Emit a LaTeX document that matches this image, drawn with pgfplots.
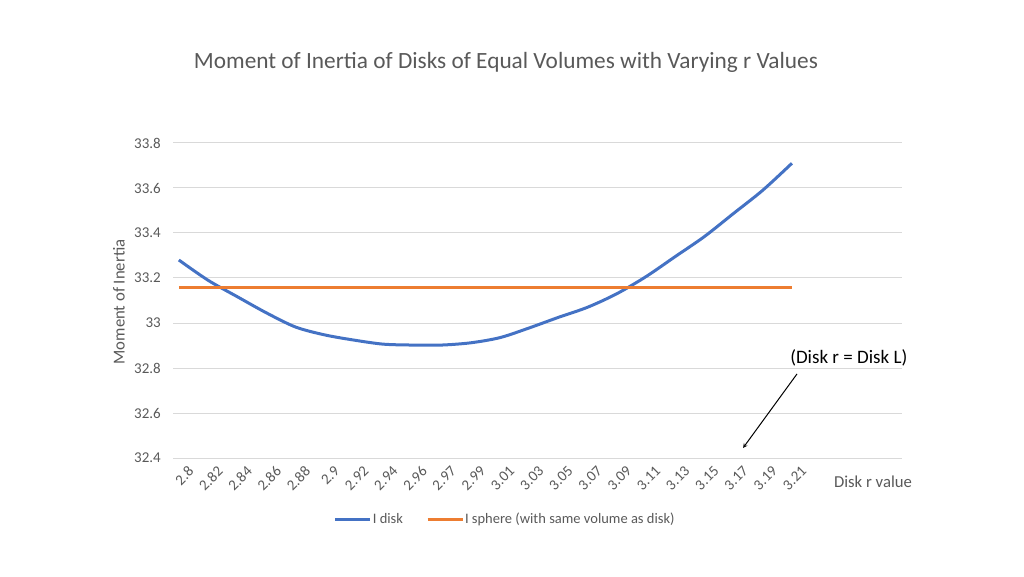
\documentclass[border=0pt]{standalone}
\usepackage{pgfplots}
\pgfplotsset{compat=1.18}
\usepackage{fontspec}
\setmainfont{Carlito}
\definecolor{txt}{HTML}{595959}
\definecolor{gridc}{HTML}{D9D9D9}
\definecolor{cblue}{HTML}{4472C4}
\definecolor{corange}{HTML}{ED7D31}
\newcommand{\fs}[1]{\fontsize{#1}{#1}\selectfont}
\begin{document}
\begin{tikzpicture}[x=1pt,y=1pt]
\useasboundingbox (0,0) rectangle (1024,576);
\begin{axis}[
  at={(173pt,118pt)}, anchor=south west,
  scale only axis, width=729pt, height=315pt,
  xmin=-0.2, xmax=24.77, ymin=32.4, ymax=33.8,
  ytick={32.4,32.6,32.8,33,33.2,33.4,33.6,33.8},
  yticklabels={32.4,32.6,32.8,33,33.2,33.4,33.6,33.8},
  xtick={0,1,...,21},
  xticklabels={2.8,2.82,2.84,2.86,2.88,2.9,2.92,2.94,2.96,2.97,2.99,3.01,3.03,3.05,3.07,3.09,3.11,3.13,3.15,3.17,3.19,3.21},
  major tick length=0pt,
  axis line style={draw=none},
  ymajorgrids, grid style={gridc, line width=1pt},
  yticklabel style={font=\fs{15}, text=txt, inner sep=0pt, xshift=-12pt},
  xticklabel style={font=\fs{15}, text=txt, rotate=45, anchor=north east, inner sep=0pt, xshift=1pt, yshift=-11pt},
  legend style={at={(0.455,-0.194)}, anchor=center, draw=none, fill=none, font=\fs{14.5}, text=txt,
    legend columns=2, /tikz/every even column/.append style={column sep=22pt},
    nodes={inner sep=1pt}},
  legend image code/.code={\draw[#1] (0pt,0pt) -- (35pt,0pt);},
  clip=false,
]
\addplot[cblue, line width=3pt, smooth] coordinates {
(0,33.28) (1,33.19) (2,33.117) (3,33.045) (4,32.982) (5,32.947) (6,32.924) (7,32.906)
(8,32.902) (9,32.902) (10,32.912) (11,32.935) (12,32.978) (13,33.025) (14,33.07) (15,33.13)
(16,33.206) (17,33.295) (18,33.384) (19,33.487) (20,33.59) (21,33.71)};
\addlegendentry{I disk}
\addplot[corange, line width=3pt] coordinates {
(0,33.16) (1,33.16) (2,33.16) (3,33.16) (4,33.16) (5,33.16) (6,33.16) (7,33.16)
(8,33.16) (9,33.16) (10,33.16) (11,33.16) (12,33.16) (13,33.16) (14,33.16) (15,33.16)
(16,33.16) (17,33.16) (18,33.16) (19,33.16) (20,33.16) (21,33.16)};
\addlegendentry{I sphere (with same volume as disk)}
\node[font=\fs{19}, text=black] at (axis description cs:0.927,0.317) {(Disk r = Disk L)};
\draw[-stealth, line width=1pt] (axis description cs:0.856,0.267) -- (axis description cs:0.782,0.032);
\end{axis}
\node[font=\fs{23.3}, text=txt] at (506,514) {Moment of Inertia of Disks of Equal Volumes with Varying r Values};
\node[font=\fs{16.7}, text=txt, rotate=90] at (119,274) {Moment of Inertia};
\node[font=\fs{16.7}, text=txt] at (873,94) {Disk r value};
\end{tikzpicture}
\end{document}
